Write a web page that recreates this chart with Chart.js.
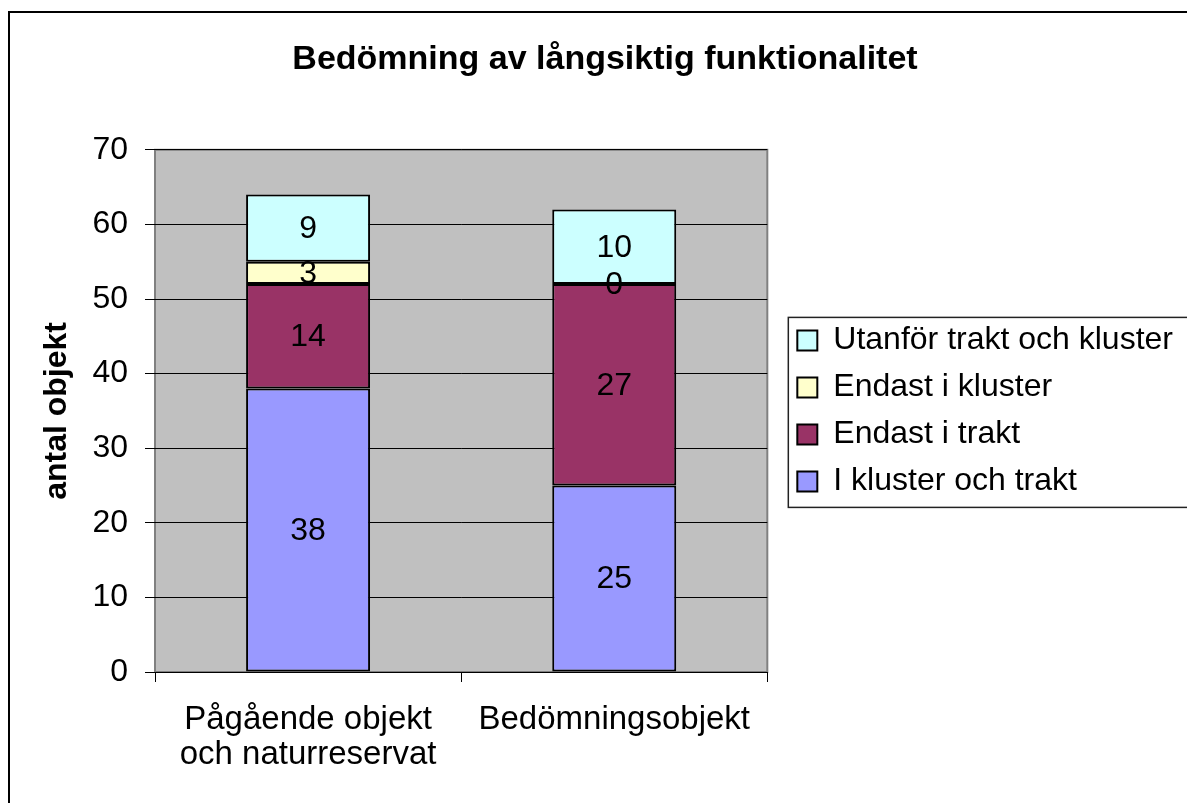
<!DOCTYPE html>
<html>
<head>
<meta charset="utf-8">
<title>Bedömning av långsiktig funktionalitet</title>
<script src="https://cdn.jsdelivr.net/npm/chart.js@4.4.0/dist/chart.umd.min.js"></script>
<style>
  html, body { margin: 0; padding: 0; background: #fff; overflow: hidden; }
  .frame { position: absolute; left: 8px; top: 11px; width: 1300px; height: 900px; border-left: 2px solid #000; border-top: 2px solid #000; }
  .chart-box { position: absolute; left: 10px; top: 13px; width: 1190px; height: 790px; }
</style>
</head>
<body>
<div class="frame"></div>
<div class="chart-box"><canvas id="chart" width="1190" height="790"></canvas></div>
<script>
// data
const categories = [['Pågående objekt', 'och naturreservat'], 'Bedömningsobjekt'];
const seriesNames = ['I kluster och trakt', 'Endast i trakt', 'Endast i kluster', 'Utanför trakt och kluster'];
const iKlusterOchTrakt = [38, 25];
const endastITrakt = [14, 27];
const endastIKluster = [3, 0];
const utanforTraktOchKluster = [9, 10];
const seriesColors = ['#9999FF', '#993366', '#FFFFCC', '#CCFFFF'];
const yTicks = [0, 10, 20, 30, 40, 50, 60, 70];

const seriesValues = [iKlusterOchTrakt, endastITrakt, endastIKluster, utanforTraktOchKluster];

Chart.defaults.font.family = "'Liberation Sans', Arial, sans-serif";
Chart.defaults.color = '#000';

// grey plot area with a grey frame
const plotArea = {
    id: 'plotArea',
    beforeDraw(chart) {
        const { ctx, chartArea: a } = chart;
        ctx.save();
        ctx.fillStyle = '#C0C0C0';
        ctx.fillRect(a.left, a.top, a.width, a.height);
        ctx.strokeStyle = '#808080';
        ctx.lineWidth = 2;
        ctx.strokeRect(a.left, a.top, a.width, a.height);
        ctx.restore();
    }
};

// value written in the middle of every segment
const segmentLabels = {
    id: 'segmentLabels',
    afterDatasetsDraw(chart) {
        const { ctx } = chart;
        ctx.save();
        ctx.font = "32px 'Liberation Sans', Arial, sans-serif";
        ctx.fillStyle = '#000';
        ctx.textAlign = 'center';
        ctx.textBaseline = 'middle';
        chart.data.datasets.forEach((ds, i) => {
            chart.getDatasetMeta(i).data.forEach((bar, j) => {
                ctx.fillText(String(ds.data[j]), bar.x, (bar.y + bar.base) / 2 + 1);
            });
        });
        ctx.restore();
    }
};

// frame round the legend
const legendFrame = {
    id: 'legendFrame',
    afterDraw(chart) {
        const lg = chart.legend;
        if (!lg || !lg.columnSizes) return;
        const pad = lg.options.labels.padding;
        const colH = lg.columnSizes[0].height;
        const start = (lg.top + pad + lg.bottom - colH) / 2;
        const top = start - 7;
        const bottom = start + colH - pad + 10;
        const { ctx } = chart;
        ctx.save();
        ctx.strokeStyle = '#222';
        ctx.lineWidth = 1.5;
        ctx.strokeRect(lg.left + 6, top, 1000, bottom - top);
        ctx.restore();
    }
};

new Chart(document.getElementById('chart'), {
    type: 'bar',
    data: {
        labels: categories,
        datasets: seriesNames.map((name, i) => ({
            label: name,
            data: seriesValues[i],
            backgroundColor: seriesColors[i],
            borderColor: '#000',
            borderWidth: 2,
            borderSkipped: false,
            categoryPercentage: 1,
            barPercentage: 0.405
        }))
    },
    options: {
        responsive: false,
        animation: false,
        layout: { padding: { left: 17, right: 17, top: 0, bottom: 0 } },
        scales: {
            x: {
                stacked: true,
                grid: { offset: true, drawOnChartArea: false, color: '#000', tickLength: 10 },
                border: { display: true, color: '#000', width: 1 },
                ticks: { font: { size: 33, lineHeight: 1.06 }, padding: 20, maxRotation: 0 },
                afterFit(scale) { scale.height = 131; }
            },
            y: {
                stacked: true,
                min: yTicks[0],
                max: yTicks[yTicks.length - 1],
                ticks: { stepSize: yTicks[1] - yTicks[0], font: { size: 32 }, padding: 17 },
                grid: { color: '#000', tickLength: 10 },
                border: { display: false },
                title: {
                    display: true,
                    text: 'antal objekt',
                    font: { size: 32, weight: 'bold' },
                    padding: { top: 11, bottom: 0 }
                },
                afterFit(scale) { scale.width = 128; }
            },
            gap: {
                position: 'right',
                display: true,
                grid: { display: false },
                border: { display: false },
                ticks: { display: false },
                afterFit(scale) { scale.width = 15; }
            }
        },
        plugins: {
            title: {
                display: true,
                text: 'Bedömning av långsiktig funktionalitet',
                font: { size: 34, weight: 'bold' },
                color: '#000',
                padding: { top: 26, bottom: 70 }
            },
            legend: {
                position: 'right',
                fullSize: false,
                reverse: true,
                maxWidth: 420,
                labels: { font: { size: 32 }, boxWidth: 20, boxHeight: 20, padding: 15, color: '#000' }
            },
            tooltip: { enabled: false }
        }
    },
    plugins: [plotArea, segmentLabels, legendFrame]
});
</script>
</body>
</html>
